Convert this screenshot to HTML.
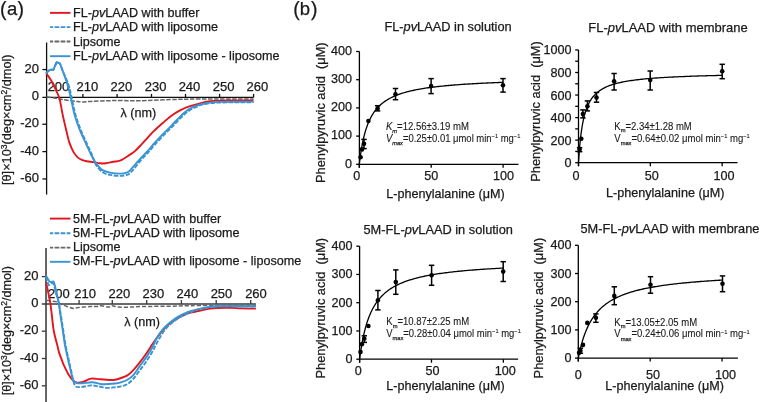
<!DOCTYPE html>
<html><head><meta charset="utf-8"><style>
html,body{margin:0;padding:0;background:#fff;}
svg{display:block;will-change:transform;}
text{font-family:"Liberation Sans",sans-serif;fill:#1a1a1a;stroke:#1a1a1a;stroke-width:0.25px;}
</style></head><body>
<svg width="760" height="402" viewBox="0 0 760 402">
<rect width="760" height="402" fill="#fff"/>
<text x="0.00" y="16.00" font-size="19.50" text-anchor="start" >(</text>
<text x="7.00" y="14.90" font-size="18.50" text-anchor="start" >a</text>
<text x="17.60" y="16.00" font-size="19.50" text-anchor="start" >)</text>
<text x="293.30" y="16.00" font-size="19.50" text-anchor="start" >(</text>
<text x="299.80" y="14.90" font-size="18.50" text-anchor="start" >b</text>
<text x="311.00" y="16.00" font-size="19.50" text-anchor="start" >)</text>
<line x1="50.00" y1="12.85" x2="70.50" y2="12.85" stroke="#e3151d" stroke-width="1.90" />
<text x="73.00" y="16.80" font-size="12.60" text-anchor="start" >FL-<tspan font-style="italic">pv</tspan>LAAD with buffer</text>
<line x1="50.00" y1="27.10" x2="70.40" y2="27.10" stroke="#3a93d2" stroke-width="1.90" stroke-dasharray="4.7 1.35" stroke-dashoffset="1.5"/>
<text x="73.00" y="31.20" font-size="12.60" text-anchor="start" >FL-<tspan font-style="italic">pv</tspan>LAAD with liposome</text>
<line x1="50.00" y1="41.50" x2="70.40" y2="41.50" stroke="#666666" stroke-width="1.90" stroke-dasharray="4.7 1.35" stroke-dashoffset="1.5"/>
<text x="73.00" y="45.60" font-size="12.60" text-anchor="start" >Lipsome</text>
<line x1="50.00" y1="56.20" x2="70.50" y2="56.20" stroke="#3a93d2" stroke-width="1.90" />
<text x="73.00" y="60.00" font-size="12.60" text-anchor="start" >FL-<tspan font-style="italic">pv</tspan>LAAD with liposome - liposome</text>
<line x1="46.60" y1="42.50" x2="46.60" y2="194.60" stroke="#111" stroke-width="1.30" />
<line x1="42.40" y1="97.30" x2="253.70" y2="97.30" stroke="#111" stroke-width="1.30" />
<line x1="42.40" y1="69.55" x2="46.60" y2="69.55" stroke="#111" stroke-width="1.30" />
<text x="39.00" y="72.55" font-size="13.00" text-anchor="end" >20</text>
<text x="39.00" y="99.90" font-size="13.00" text-anchor="end" >0</text>
<line x1="42.40" y1="124.25" x2="46.60" y2="124.25" stroke="#111" stroke-width="1.30" />
<text x="39.00" y="127.25" font-size="13.00" text-anchor="end" >-20</text>
<line x1="42.40" y1="151.60" x2="46.60" y2="151.60" stroke="#111" stroke-width="1.30" />
<text x="39.00" y="154.60" font-size="13.00" text-anchor="end" >-40</text>
<line x1="42.40" y1="178.95" x2="46.60" y2="178.95" stroke="#111" stroke-width="1.30" />
<text x="39.00" y="181.95" font-size="13.00" text-anchor="end" >-60</text>
<text x="58.50" y="90.90" font-size="13.00" text-anchor="middle" >200</text>
<line x1="82.90" y1="93.90" x2="82.90" y2="97.30" stroke="#111" stroke-width="1.30" />
<text x="87.40" y="90.90" font-size="13.00" text-anchor="middle" >210</text>
<line x1="117.10" y1="93.90" x2="117.10" y2="97.30" stroke="#111" stroke-width="1.30" />
<text x="121.30" y="90.90" font-size="13.00" text-anchor="middle" >220</text>
<line x1="151.50" y1="93.90" x2="151.50" y2="97.30" stroke="#111" stroke-width="1.30" />
<text x="155.60" y="90.90" font-size="13.00" text-anchor="middle" >230</text>
<line x1="185.50" y1="93.90" x2="185.50" y2="97.30" stroke="#111" stroke-width="1.30" />
<text x="189.50" y="90.90" font-size="13.00" text-anchor="middle" >240</text>
<line x1="219.60" y1="93.90" x2="219.60" y2="97.30" stroke="#111" stroke-width="1.30" />
<text x="223.70" y="90.90" font-size="13.00" text-anchor="middle" >250</text>
<line x1="253.60" y1="93.90" x2="253.60" y2="97.30" stroke="#111" stroke-width="1.30" />
<text x="257.40" y="90.90" font-size="13.00" text-anchor="middle" >260</text>
<text x="120.50" y="116.60" font-size="12.60" text-anchor="start" >λ (nm)</text>
<text transform="translate(11.00,185.00) rotate(-90)" font-size="12.60" textLength="130.6" lengthAdjust="spacingAndGlyphs">[θ]×10<tspan font-size="8.5" dy="-4.5">3</tspan><tspan dy="4.5">(deg×cm</tspan><tspan font-size="8.5" dy="-4.5">2</tspan><tspan dy="4.5">/dmol)</tspan></text>
<path d="M46.50,97.00 C47.83,97.18 51.75,97.67 54.50,98.10 C57.25,98.53 59.48,99.07 63.00,99.60 C66.52,100.13 72.45,100.92 75.60,101.30 C78.75,101.68 79.27,101.88 81.90,101.90 C84.53,101.92 87.18,101.60 91.40,101.40 C95.62,101.20 101.93,100.83 107.20,100.70 C112.47,100.57 117.53,100.60 123.00,100.60 C128.47,100.60 132.17,100.87 140.00,100.70 C147.83,100.53 160.00,99.88 170.00,99.60 C180.00,99.32 186.08,99.12 200.00,99.00 C213.92,98.88 244.58,98.92 253.50,98.90" fill="none" stroke="#666666" stroke-width="1.50" stroke-linejoin="round" stroke-dasharray="4.5 1.5"/>
<path d="M46.20,73.00 C46.58,73.58 47.62,75.15 48.50,76.50 C49.38,77.85 50.58,79.52 51.50,81.10 C52.42,82.68 53.18,84.33 54.00,86.00 C54.82,87.67 55.48,89.00 56.40,91.10 C57.32,93.20 58.45,94.63 59.50,98.60 C60.55,102.57 61.58,109.67 62.70,114.90 C63.82,120.13 65.10,125.42 66.20,130.00 C67.30,134.58 68.05,138.67 69.30,142.40 C70.55,146.13 72.35,149.95 73.70,152.40 C75.05,154.85 76.05,155.85 77.40,157.10 C78.75,158.35 80.25,159.20 81.80,159.90 C83.35,160.60 84.73,160.93 86.70,161.30 C88.67,161.67 91.42,161.77 93.60,162.10 C95.78,162.43 97.73,163.10 99.80,163.30 C101.87,163.50 103.75,163.55 106.00,163.30 C108.25,163.05 110.97,162.23 113.30,161.80 C115.63,161.37 117.43,161.75 120.00,160.70 C122.57,159.65 126.22,157.10 128.70,155.50 C131.18,153.90 132.83,152.87 134.90,151.10 C136.97,149.33 139.03,147.07 141.10,144.90 C143.17,142.73 145.20,140.40 147.30,138.10 C149.40,135.80 151.18,133.57 153.70,131.10 C156.22,128.63 159.50,125.83 162.40,123.30 C165.30,120.77 168.17,118.07 171.10,115.90 C174.03,113.73 176.85,111.92 180.00,110.30 C183.15,108.68 186.67,107.37 190.00,106.20 C193.33,105.03 196.67,104.12 200.00,103.30 C203.33,102.48 206.67,101.75 210.00,101.30 C213.33,100.85 215.83,100.73 220.00,100.60 C224.17,100.47 229.42,100.52 235.00,100.50 C240.58,100.48 250.42,100.50 253.50,100.50" fill="none" stroke="#e3151d" stroke-width="1.90" stroke-linejoin="round" />
<path d="M46.20,73.30 C46.42,73.05 46.88,72.37 47.50,71.80 C48.12,71.23 49.38,70.25 49.90,69.90 C50.42,69.55 50.12,69.73 50.60,69.70 C51.08,69.67 52.30,69.77 52.80,69.70 C53.30,69.63 53.00,70.47 53.60,69.30 C54.20,68.13 55.78,63.85 56.40,62.70 C57.02,61.55 56.80,62.30 57.30,62.40 C57.80,62.50 58.90,62.98 59.40,63.30 C59.90,63.62 59.82,63.22 60.30,64.30 C60.78,65.38 60.93,66.37 62.30,69.80 C63.67,73.23 66.95,80.32 68.50,84.90 C70.05,89.48 70.43,92.30 71.60,97.30 C72.77,102.30 73.98,109.47 75.50,114.90 C77.02,120.33 78.72,124.92 80.70,129.90 C82.68,134.88 85.53,140.70 87.40,144.80 C89.27,148.90 90.48,151.18 91.90,154.50 C93.32,157.82 94.12,161.75 95.90,164.70 C97.68,167.65 100.17,170.50 102.60,172.20 C105.03,173.90 107.52,174.28 110.50,174.90 C113.48,175.52 117.60,175.95 120.50,175.90 C123.40,175.85 126.05,175.33 127.90,174.60 C129.75,173.87 130.35,172.75 131.60,171.50 C132.85,170.25 133.65,169.22 135.40,167.10 C137.15,164.98 139.95,161.27 142.10,158.80 C144.25,156.33 146.20,154.63 148.30,152.30 C150.40,149.97 152.18,147.62 154.70,144.80 C157.22,141.98 160.68,138.20 163.40,135.40 C166.12,132.60 169.00,130.02 171.00,128.00 C173.00,125.98 173.95,124.82 175.40,123.30 C176.85,121.78 178.25,120.37 179.70,118.90 C181.15,117.43 182.65,115.80 184.10,114.50 C185.55,113.20 186.95,112.12 188.40,111.10 C189.85,110.08 191.35,109.13 192.80,108.40 C194.25,107.67 195.82,107.27 197.10,106.70 C198.38,106.13 199.20,105.43 200.50,105.00 C201.80,104.57 203.32,104.40 204.90,104.10 C206.48,103.80 207.48,103.47 210.00,103.20 C212.52,102.93 212.75,102.67 220.00,102.50 C227.25,102.33 247.92,102.25 253.50,102.20" fill="none" stroke="#3a93d2" stroke-width="1.90" stroke-linejoin="round" stroke-dasharray="4.5 1.5"/>
<path d="M46.20,73.30 C46.42,73.05 46.88,72.37 47.50,71.80 C48.12,71.23 49.38,70.25 49.90,69.90 C50.42,69.55 50.12,69.73 50.60,69.70 C51.08,69.67 52.30,69.77 52.80,69.70 C53.30,69.63 53.00,70.47 53.60,69.30 C54.20,68.13 55.78,63.85 56.40,62.70 C57.02,61.55 56.80,62.30 57.30,62.40 C57.80,62.50 58.90,62.98 59.40,63.30 C59.90,63.62 59.82,63.22 60.30,64.30 C60.78,65.38 61.08,66.37 62.30,69.80 C63.52,73.23 66.20,80.32 67.60,84.90 C69.00,89.48 69.53,92.30 70.70,97.30 C71.87,102.30 73.08,109.47 74.60,114.90 C76.12,120.33 77.82,124.92 79.80,129.90 C81.78,134.88 84.63,140.70 86.50,144.80 C88.37,148.90 89.52,151.57 91.00,154.50 C92.48,157.43 93.55,159.83 95.40,162.40 C97.25,164.97 99.67,168.20 102.10,169.90 C104.53,171.60 107.02,171.98 110.00,172.60 C112.98,173.22 117.10,173.65 120.00,173.60 C122.90,173.55 125.55,173.03 127.40,172.30 C129.25,171.57 129.85,170.45 131.10,169.20 C132.35,167.95 133.23,166.67 134.90,164.80 C136.57,162.93 139.03,160.22 141.10,158.00 C143.17,155.78 145.20,153.83 147.30,151.50 C149.40,149.17 151.18,146.82 153.70,144.00 C156.22,141.18 159.68,137.40 162.40,134.60 C165.12,131.80 168.00,129.22 170.00,127.20 C172.00,125.18 172.95,124.02 174.40,122.50 C175.85,120.98 177.25,119.57 178.70,118.10 C180.15,116.63 181.65,115.00 183.10,113.70 C184.55,112.40 185.95,111.32 187.40,110.30 C188.85,109.28 190.35,108.33 191.80,107.60 C193.25,106.87 194.65,106.43 196.10,105.90 C197.55,105.37 199.03,104.80 200.50,104.40 C201.97,104.00 203.32,103.80 204.90,103.50 C206.48,103.20 207.48,102.87 210.00,102.60 C212.52,102.33 212.75,102.07 220.00,101.90 C227.25,101.73 247.92,101.65 253.50,101.60" fill="none" stroke="#3a93d2" stroke-width="1.90" stroke-linejoin="round" />
<line x1="50.00" y1="218.60" x2="70.50" y2="218.60" stroke="#e3151d" stroke-width="1.90" />
<text x="73.00" y="222.60" font-size="12.60" text-anchor="start" >5M-FL-<tspan font-style="italic">pv</tspan>LAAD with buffer</text>
<line x1="50.00" y1="233.20" x2="70.40" y2="233.20" stroke="#3a93d2" stroke-width="1.90" stroke-dasharray="4.7 1.35" stroke-dashoffset="1.5"/>
<text x="73.00" y="236.80" font-size="12.60" text-anchor="start" >5M-FL-<tspan font-style="italic">pv</tspan>LAAD with liposome</text>
<line x1="50.00" y1="247.60" x2="70.40" y2="247.60" stroke="#666666" stroke-width="1.90" stroke-dasharray="4.7 1.35" stroke-dashoffset="1.5"/>
<text x="73.00" y="251.00" font-size="12.60" text-anchor="start" >Lipsome</text>
<line x1="50.00" y1="261.80" x2="70.50" y2="261.80" stroke="#3a93d2" stroke-width="1.90" />
<text x="73.00" y="265.20" font-size="12.60" text-anchor="start" >5M-FL-<tspan font-style="italic">pv</tspan>LAAD with liposome - liposome</text>
<line x1="46.00" y1="248.00" x2="46.00" y2="402.00" stroke="#3a3a3a" stroke-width="1.55" />
<line x1="41.80" y1="304.00" x2="255.90" y2="304.00" stroke="#3a3a3a" stroke-width="1.55" />
<line x1="41.80" y1="276.60" x2="46.00" y2="276.60" stroke="#3a3a3a" stroke-width="1.30" />
<text x="38.50" y="279.60" font-size="13.00" text-anchor="end" >20</text>
<text x="38.50" y="306.90" font-size="13.00" text-anchor="end" >0</text>
<line x1="41.80" y1="331.20" x2="46.00" y2="331.20" stroke="#3a3a3a" stroke-width="1.30" />
<text x="38.50" y="334.20" font-size="13.00" text-anchor="end" >-20</text>
<line x1="41.80" y1="358.50" x2="46.00" y2="358.50" stroke="#3a3a3a" stroke-width="1.30" />
<text x="38.50" y="361.50" font-size="13.00" text-anchor="end" >-40</text>
<line x1="41.80" y1="385.80" x2="46.00" y2="385.80" stroke="#3a3a3a" stroke-width="1.30" />
<text x="38.50" y="388.80" font-size="13.00" text-anchor="end" >-60</text>
<text x="58.80" y="297.50" font-size="13.00" text-anchor="middle" >200</text>
<line x1="79.10" y1="300.10" x2="79.10" y2="304.00" stroke="#3a3a3a" stroke-width="1.30" />
<text x="85.10" y="297.50" font-size="13.00" text-anchor="middle" >210</text>
<line x1="112.30" y1="300.10" x2="112.30" y2="304.00" stroke="#3a3a3a" stroke-width="1.30" />
<text x="119.30" y="297.50" font-size="13.00" text-anchor="middle" >220</text>
<line x1="146.70" y1="300.10" x2="146.70" y2="304.00" stroke="#3a3a3a" stroke-width="1.30" />
<text x="153.40" y="297.50" font-size="13.00" text-anchor="middle" >230</text>
<line x1="181.40" y1="300.10" x2="181.40" y2="304.00" stroke="#3a3a3a" stroke-width="1.30" />
<text x="187.40" y="297.50" font-size="13.00" text-anchor="middle" >240</text>
<line x1="216.20" y1="300.10" x2="216.20" y2="304.00" stroke="#3a3a3a" stroke-width="1.30" />
<text x="221.50" y="297.50" font-size="13.00" text-anchor="middle" >250</text>
<line x1="250.70" y1="300.10" x2="250.70" y2="304.00" stroke="#3a3a3a" stroke-width="1.30" />
<text x="256.00" y="297.50" font-size="13.00" text-anchor="middle" >260</text>
<text x="124.20" y="326.30" font-size="12.60" text-anchor="start" >λ (nm)</text>
<text transform="translate(11.00,395.30) rotate(-90)" font-size="12.60" >[θ]×10<tspan font-size="8.5" dy="-4.5">3</tspan><tspan dy="4.5">(deg×cm</tspan><tspan font-size="8.5" dy="-4.5">2</tspan><tspan dy="4.5">/dmol)</tspan></text>
<path d="M46.60,300.40 C46.83,300.43 46.35,300.35 48.00,300.60 C49.65,300.85 54.32,301.30 56.50,301.90 C58.68,302.50 59.35,303.43 61.10,304.20 C62.85,304.97 64.92,305.80 67.00,306.50 C69.08,307.20 71.73,308.22 73.60,308.40 C75.47,308.58 75.47,307.90 78.20,307.60 C80.93,307.30 86.93,306.78 90.00,306.60 C93.07,306.42 94.62,306.63 96.60,306.50 C98.58,306.37 99.92,305.70 101.90,305.80 C103.88,305.90 106.75,307.12 108.50,307.10 C110.25,307.08 110.87,305.70 112.40,305.70 C113.93,305.70 114.85,306.87 117.70,307.10 C120.55,307.33 125.33,307.20 129.50,307.10 C133.67,307.00 135.95,306.65 142.70,306.50 C149.45,306.35 160.45,306.37 170.00,306.20 C179.55,306.03 185.68,305.67 200.00,305.50 C214.32,305.33 246.58,305.25 255.90,305.20" fill="none" stroke="#666666" stroke-width="1.50" stroke-linejoin="round" stroke-dasharray="4.2 1.9"/>
<path d="M46.00,282.40 C46.28,283.65 47.00,286.58 47.70,289.90 C48.40,293.22 49.52,298.13 50.20,302.30 C50.88,306.47 51.23,310.30 51.80,314.90 C52.37,319.50 52.92,325.72 53.60,329.90 C54.28,334.08 55.30,337.52 55.90,340.00 C56.50,342.48 56.68,342.73 57.20,344.80 C57.72,346.87 58.22,349.83 59.00,352.40 C59.78,354.97 61.12,358.12 61.90,360.20 C62.68,362.28 62.57,362.47 63.70,364.90 C64.83,367.33 67.15,372.22 68.70,374.80 C70.25,377.38 71.55,379.08 73.00,380.40 C74.45,381.72 75.63,382.48 77.40,382.70 C79.17,382.92 81.33,382.38 83.60,381.70 C85.87,381.02 88.30,379.02 91.00,378.60 C93.70,378.18 96.48,378.97 99.80,379.20 C103.12,379.43 108.37,379.90 110.90,380.00 C113.43,380.10 113.32,380.13 115.00,379.80 C116.68,379.47 118.93,378.73 121.00,378.00 C123.07,377.27 125.30,376.77 127.40,375.40 C129.50,374.03 131.53,371.97 133.60,369.80 C135.67,367.63 137.72,365.08 139.80,362.40 C141.88,359.72 144.02,356.72 146.10,353.70 C148.18,350.68 150.40,347.08 152.30,344.30 C154.20,341.52 155.72,339.38 157.50,337.00 C159.28,334.62 161.17,332.07 163.00,330.00 C164.83,327.93 166.67,326.20 168.50,324.60 C170.33,323.00 172.17,321.65 174.00,320.40 C175.83,319.15 177.67,318.08 179.50,317.10 C181.33,316.12 183.17,315.25 185.00,314.50 C186.83,313.75 188.12,313.22 190.50,312.60 C192.88,311.98 196.32,311.42 199.30,310.80 C202.28,310.18 205.35,309.37 208.40,308.90 C211.45,308.43 213.77,308.17 217.60,308.00 C221.43,307.83 227.55,307.83 231.40,307.90 C235.25,307.97 236.62,308.28 240.70,308.40 C244.78,308.52 253.37,308.57 255.90,308.60" fill="none" stroke="#e3151d" stroke-width="1.90" stroke-linejoin="round" />
<path d="M46.00,276.50 C46.25,277.25 47.12,279.58 47.50,281.00 C47.88,282.42 47.88,284.42 48.30,285.00 C48.72,285.58 49.38,284.83 50.00,284.50 C50.62,284.17 51.42,283.08 52.00,283.00 C52.58,282.92 53.03,283.17 53.50,284.00 C53.97,284.83 54.33,286.50 54.80,288.00 C55.27,289.50 55.82,291.25 56.30,293.00 C56.78,294.75 57.25,296.67 57.70,298.50 C58.15,300.33 58.48,301.25 59.00,304.00 C59.52,306.75 60.10,310.67 60.80,315.00 C61.50,319.33 62.42,325.00 63.20,330.00 C63.98,335.00 64.67,340.42 65.50,345.00 C66.33,349.58 67.25,353.17 68.20,357.50 C69.15,361.83 70.08,366.35 71.20,371.00 C72.32,375.65 73.25,382.73 74.90,385.40 C76.55,388.07 78.42,387.00 81.10,387.00 C83.78,387.00 88.02,385.48 91.00,385.40 C93.98,385.32 96.30,386.08 99.00,386.50 C101.70,386.92 104.53,387.78 107.20,387.90 C109.87,388.02 112.70,387.47 115.00,387.20 C117.30,386.93 118.93,386.82 121.00,386.30 C123.07,385.78 125.30,385.40 127.40,384.10 C129.50,382.80 131.53,380.78 133.60,378.50 C135.67,376.22 137.72,373.20 139.80,370.40 C141.88,367.60 144.02,364.80 146.10,361.70 C148.18,358.60 150.73,354.50 152.30,351.80 C153.87,349.10 154.47,347.47 155.50,345.50 C156.53,343.53 157.25,342.17 158.50,340.00 C159.75,337.83 161.42,334.78 163.00,332.50 C164.58,330.22 166.17,328.18 168.00,326.30 C169.83,324.42 172.00,322.72 174.00,321.20 C176.00,319.68 177.80,318.45 180.00,317.20 C182.20,315.95 184.00,315.03 187.20,313.70 C190.40,312.37 194.13,310.42 199.20,309.20 C204.27,307.98 208.15,306.85 217.60,306.40 C227.05,305.95 249.52,306.48 255.90,306.50" fill="none" stroke="#3a93d2" stroke-width="1.90" stroke-linejoin="round" stroke-dasharray="4.5 1.5"/>
<path d="M46.00,275.80 C46.33,276.37 47.42,278.25 48.00,279.20 C48.58,280.15 48.92,281.03 49.50,281.50 C50.08,281.97 50.83,282.00 51.50,282.00 C52.17,282.00 52.98,281.08 53.50,281.50 C54.02,281.92 54.18,283.00 54.60,284.50 C55.02,286.00 55.57,288.58 56.00,290.50 C56.43,292.42 56.82,294.25 57.20,296.00 C57.58,297.75 57.95,299.33 58.30,301.00 C58.65,302.67 58.95,303.67 59.30,306.00 C59.65,308.33 59.83,311.02 60.40,315.00 C60.97,318.98 61.95,324.93 62.70,329.90 C63.45,334.87 64.10,340.28 64.90,344.80 C65.70,349.32 66.57,352.82 67.50,357.00 C68.43,361.18 69.58,366.10 70.50,369.90 C71.42,373.70 72.07,377.63 73.00,379.80 C73.93,381.97 74.55,382.32 76.10,382.90 C77.65,383.48 79.60,383.40 82.30,383.30 C85.00,383.20 88.98,382.15 92.30,382.30 C95.62,382.45 98.42,384.00 102.20,384.20 C105.98,384.40 111.87,383.82 115.00,383.50 C118.13,383.18 118.93,382.92 121.00,382.30 C123.07,381.68 125.30,381.05 127.40,379.80 C129.50,378.55 131.53,377.08 133.60,374.80 C135.67,372.52 137.72,369.00 139.80,366.10 C141.88,363.20 144.02,360.50 146.10,357.40 C148.18,354.30 150.52,350.73 152.30,347.50 C154.08,344.27 155.12,340.95 156.80,338.00 C158.48,335.05 160.53,332.12 162.40,329.80 C164.27,327.48 166.13,325.78 168.00,324.10 C169.87,322.42 171.73,321.02 173.60,319.70 C175.47,318.38 177.33,317.25 179.20,316.20 C181.07,315.15 182.93,314.23 184.80,313.40 C186.67,312.57 187.97,311.95 190.40,311.20 C192.83,310.45 196.40,309.58 199.40,308.90 C202.40,308.22 205.37,307.55 208.40,307.10 C211.43,306.65 209.68,306.35 217.60,306.20 C225.52,306.05 249.52,306.20 255.90,306.20" fill="none" stroke="#3a93d2" stroke-width="1.90" stroke-linejoin="round" />
<line x1="359.40" y1="51.50" x2="359.40" y2="167.80" stroke="#000" stroke-width="1.30" />
<line x1="359.40" y1="164.30" x2="518.50" y2="164.30" stroke="#000" stroke-width="1.30" />
<line x1="356.10" y1="164.30" x2="359.40" y2="164.30" stroke="#000" stroke-width="1.30" />
<text x="352.00" y="167.60" font-size="12.60" text-anchor="end" >0</text>
<line x1="356.10" y1="136.10" x2="359.40" y2="136.10" stroke="#000" stroke-width="1.30" />
<text x="352.00" y="139.40" font-size="12.60" text-anchor="end" >100</text>
<line x1="356.10" y1="107.90" x2="359.40" y2="107.90" stroke="#000" stroke-width="1.30" />
<text x="352.00" y="111.20" font-size="12.60" text-anchor="end" >200</text>
<line x1="356.10" y1="79.70" x2="359.40" y2="79.70" stroke="#000" stroke-width="1.30" />
<text x="352.00" y="83.00" font-size="12.60" text-anchor="end" >300</text>
<line x1="356.10" y1="51.50" x2="359.40" y2="51.50" stroke="#000" stroke-width="1.30" />
<text x="352.00" y="54.80" font-size="12.60" text-anchor="end" >400</text>
<line x1="359.30" y1="164.30" x2="359.30" y2="167.80" stroke="#000" stroke-width="1.30" />
<text x="356.80" y="179.80" font-size="12.60" text-anchor="middle" >0</text>
<line x1="431.20" y1="164.30" x2="431.20" y2="167.80" stroke="#000" stroke-width="1.30" />
<text x="431.30" y="179.80" font-size="12.60" text-anchor="middle" >50</text>
<line x1="503.10" y1="164.30" x2="503.10" y2="167.80" stroke="#000" stroke-width="1.30" />
<text x="503.60" y="179.80" font-size="12.60" text-anchor="middle" >100</text>
<text x="384.40" y="31.20" font-size="12.60" text-anchor="start" textLength="127.3" lengthAdjust="spacingAndGlyphs">FL-<tspan font-style="italic">pv</tspan>LAAD in solution</text>
<text x="386.20" y="197.50" font-size="12.60" text-anchor="start" >L-phenylalanine (μM)</text>
<text transform="translate(325.00,183.00) rotate(-90)" font-size="12.6" textLength="140.6" lengthAdjust="spacingAndGlyphs">Phenylpyruvic acid&#160;&#160;(μM)</text>
<path d="M359.30,164.30 L359.66,161.28 L360.02,158.45 L360.38,155.81 L360.74,153.34 L361.10,151.01 L361.46,148.82 L361.82,146.76 L362.18,144.81 L362.54,142.97 L362.90,141.22 L363.25,139.56 L363.61,137.99 L363.97,136.49 L364.33,135.07 L364.69,133.71 L365.05,132.41 L365.41,131.17 L365.77,129.98 L366.13,128.85 L366.49,127.76 L366.85,126.71 L367.21,125.71 L367.57,124.75 L367.93,123.82 L368.29,122.93 L368.65,122.07 L369.01,121.25 L369.37,120.45 L369.73,119.68 L370.09,118.94 L370.44,118.22 L370.80,117.53 L371.16,116.85 L371.52,116.21 L371.88,115.58 L372.24,114.97 L372.60,114.38 L372.96,113.80 L373.32,113.25 L373.68,112.71 L375.12,110.70 L376.56,108.91 L377.99,107.29 L379.43,105.83 L380.87,104.50 L382.31,103.29 L383.75,102.18 L385.18,101.15 L386.62,100.21 L388.06,99.34 L389.50,98.52 L390.94,97.77 L392.37,97.06 L393.81,96.40 L395.25,95.78 L396.69,95.20 L398.13,94.65 L399.56,94.14 L401.00,93.65 L402.44,93.19 L403.88,92.75 L405.32,92.34 L406.75,91.95 L408.19,91.57 L409.63,91.22 L411.07,90.88 L412.51,90.55 L413.94,90.24 L415.38,89.94 L416.82,89.66 L418.26,89.39 L419.70,89.13 L421.13,88.88 L422.57,88.64 L424.01,88.40 L425.45,88.18 L426.89,87.97 L428.32,87.76 L429.76,87.56 L431.20,87.37 L432.64,87.18 L434.08,87.00 L435.51,86.83 L436.95,86.66 L438.39,86.50 L439.83,86.34 L441.27,86.19 L442.70,86.04 L444.14,85.90 L445.58,85.76 L447.02,85.63 L448.46,85.50 L449.89,85.37 L451.33,85.24 L452.77,85.12 L454.21,85.01 L455.65,84.89 L457.08,84.78 L458.52,84.68 L459.96,84.57 L461.40,84.47 L462.84,84.37 L464.27,84.27 L465.71,84.18 L467.15,84.08 L468.59,83.99 L470.03,83.91 L471.46,83.82 L472.90,83.74 L474.34,83.65 L475.78,83.57 L477.22,83.50 L478.65,83.42 L480.09,83.34 L481.53,83.27 L482.97,83.20 L484.41,83.13 L485.84,83.06 L487.28,82.99 L488.72,82.93 L490.16,82.86 L491.60,82.80 L493.03,82.74 L494.47,82.68 L495.91,82.62 L497.35,82.56 L498.79,82.50 L500.22,82.44 L501.66,82.39 L503.10,82.34" fill="none" stroke="#000" stroke-width="1.3"/>
<circle cx="360.60" cy="157.30" r="2.3" fill="#000"/>
<circle cx="362.00" cy="149.40" r="2.3" fill="#000"/>
<line x1="364.00" y1="139.40" x2="364.00" y2="148.60" stroke="#000" stroke-width="1.50" />
<line x1="361.30" y1="139.40" x2="366.70" y2="139.40" stroke="#000" stroke-width="1.50" />
<line x1="361.30" y1="148.60" x2="366.70" y2="148.60" stroke="#000" stroke-width="1.50" />
<circle cx="364.00" cy="143.80" r="2.3" fill="#000"/>
<circle cx="368.40" cy="121.00" r="2.3" fill="#000"/>
<line x1="377.60" y1="105.70" x2="377.60" y2="110.90" stroke="#000" stroke-width="1.50" />
<line x1="374.90" y1="105.70" x2="380.30" y2="105.70" stroke="#000" stroke-width="1.50" />
<line x1="374.90" y1="110.90" x2="380.30" y2="110.90" stroke="#000" stroke-width="1.50" />
<circle cx="377.60" cy="108.40" r="2.3" fill="#000"/>
<line x1="395.50" y1="88.50" x2="395.50" y2="99.70" stroke="#000" stroke-width="1.50" />
<line x1="392.80" y1="88.50" x2="398.20" y2="88.50" stroke="#000" stroke-width="1.50" />
<line x1="392.80" y1="99.70" x2="398.20" y2="99.70" stroke="#000" stroke-width="1.50" />
<circle cx="395.50" cy="94.30" r="2.3" fill="#000"/>
<line x1="431.10" y1="78.60" x2="431.10" y2="93.60" stroke="#000" stroke-width="1.50" />
<line x1="428.40" y1="78.60" x2="433.80" y2="78.60" stroke="#000" stroke-width="1.50" />
<line x1="428.40" y1="93.60" x2="433.80" y2="93.60" stroke="#000" stroke-width="1.50" />
<circle cx="431.10" cy="86.10" r="2.3" fill="#000"/>
<line x1="503.00" y1="78.60" x2="503.00" y2="92.10" stroke="#000" stroke-width="1.50" />
<line x1="500.30" y1="78.60" x2="505.70" y2="78.60" stroke="#000" stroke-width="1.50" />
<line x1="500.30" y1="92.10" x2="505.70" y2="92.10" stroke="#000" stroke-width="1.50" />
<circle cx="503.00" cy="85.30" r="2.3" fill="#000"/>
<text x="385.90" y="130.30" font-size="10.00" text-anchor="start" style="stroke-width:0.1px" textLength="83.1" lengthAdjust="spacingAndGlyphs"><tspan font-style="italic">K</tspan><tspan font-size="6" dy="2.3" style="stroke-width:0.25px" font-style="italic">m</tspan><tspan dy="-2.3">=12.56±3.19 mM</tspan></text>
<text x="385.90" y="141.60" font-size="10.00" text-anchor="start" style="stroke-width:0.1px" textLength="134.4" lengthAdjust="spacingAndGlyphs"><tspan font-style="italic">V</tspan><tspan font-size="6" dy="3.3" style="stroke-width:0.25px" font-style="italic">max</tspan><tspan dy="-3.3">=0.25±0.01 μmol min<tspan font-size="6" dy="-3.5">−1</tspan><tspan dy="3.5"> mg<tspan font-size="6" dy="-3.5">−1</tspan><tspan dy="3.5"></tspan></tspan></text>
<line x1="578.50" y1="49.95" x2="578.50" y2="166.20" stroke="#000" stroke-width="1.30" />
<line x1="578.50" y1="162.70" x2="737.50" y2="162.70" stroke="#000" stroke-width="1.30" />
<line x1="575.20" y1="162.70" x2="578.50" y2="162.70" stroke="#000" stroke-width="1.30" />
<text x="571.50" y="167.20" font-size="12.60" text-anchor="end" >0</text>
<line x1="575.20" y1="151.42" x2="578.50" y2="151.42" stroke="#000" stroke-width="1.30" />
<line x1="575.20" y1="140.15" x2="578.50" y2="140.15" stroke="#000" stroke-width="1.30" />
<text x="571.50" y="144.65" font-size="12.60" text-anchor="end" >200</text>
<line x1="575.20" y1="128.88" x2="578.50" y2="128.88" stroke="#000" stroke-width="1.30" />
<line x1="575.20" y1="117.60" x2="578.50" y2="117.60" stroke="#000" stroke-width="1.30" />
<text x="571.50" y="122.10" font-size="12.60" text-anchor="end" >400</text>
<line x1="575.20" y1="106.32" x2="578.50" y2="106.32" stroke="#000" stroke-width="1.30" />
<line x1="575.20" y1="95.05" x2="578.50" y2="95.05" stroke="#000" stroke-width="1.30" />
<text x="571.50" y="99.55" font-size="12.60" text-anchor="end" >600</text>
<line x1="575.20" y1="83.77" x2="578.50" y2="83.77" stroke="#000" stroke-width="1.30" />
<line x1="575.20" y1="72.50" x2="578.50" y2="72.50" stroke="#000" stroke-width="1.30" />
<text x="571.50" y="77.00" font-size="12.60" text-anchor="end" >800</text>
<line x1="575.20" y1="61.22" x2="578.50" y2="61.22" stroke="#000" stroke-width="1.30" />
<line x1="575.20" y1="49.95" x2="578.50" y2="49.95" stroke="#000" stroke-width="1.30" />
<text x="571.50" y="54.45" font-size="12.60" text-anchor="end" >1000</text>
<line x1="578.50" y1="162.70" x2="578.50" y2="166.20" stroke="#000" stroke-width="1.30" />
<text x="576.00" y="179.80" font-size="12.60" text-anchor="middle" >0</text>
<line x1="650.32" y1="162.70" x2="650.32" y2="166.20" stroke="#000" stroke-width="1.30" />
<text x="651.70" y="179.80" font-size="12.60" text-anchor="middle" >50</text>
<line x1="722.14" y1="162.70" x2="722.14" y2="166.20" stroke="#000" stroke-width="1.30" />
<text x="724.00" y="179.80" font-size="12.60" text-anchor="middle" >100</text>
<text x="588.30" y="31.60" font-size="12.60" text-anchor="start" textLength="159.4" lengthAdjust="spacingAndGlyphs">FL-<tspan font-style="italic">pv</tspan>LAAD with membrane</text>
<text x="606.00" y="197.20" font-size="12.60" text-anchor="start" >L-phenylalanine (μM)</text>
<text transform="translate(539.90,181.80) rotate(-90)" font-size="12.6" textLength="140.6" lengthAdjust="spacingAndGlyphs">Phenylpyruvic acid&#160;&#160;(μM)</text>
<path d="M578.50,162.70 L578.86,157.10 L579.22,152.16 L579.58,147.76 L579.94,143.81 L580.30,140.26 L580.65,137.04 L581.01,134.12 L581.37,131.44 L581.73,128.99 L582.09,126.73 L582.45,124.64 L582.81,122.71 L583.17,120.91 L583.53,119.24 L583.89,117.67 L584.25,116.21 L584.60,114.84 L584.96,113.55 L585.32,112.34 L585.68,111.19 L586.04,110.11 L586.40,109.09 L586.76,108.12 L587.12,107.20 L587.48,106.32 L587.84,105.49 L588.20,104.70 L588.55,103.94 L588.91,103.22 L589.27,102.53 L589.63,101.87 L589.99,101.24 L590.35,100.64 L590.71,100.05 L591.07,99.50 L591.43,98.96 L591.79,98.45 L592.15,97.95 L592.50,97.47 L592.86,97.01 L594.30,95.32 L595.74,93.85 L597.17,92.55 L598.61,91.40 L600.05,90.37 L601.48,89.45 L602.92,88.61 L604.36,87.85 L605.79,87.16 L607.23,86.52 L608.66,85.94 L610.10,85.40 L611.54,84.90 L612.97,84.44 L614.41,84.01 L615.85,83.61 L617.28,83.23 L618.72,82.88 L620.16,82.55 L621.59,82.24 L623.03,81.95 L624.46,81.67 L625.90,81.41 L627.34,81.16 L628.77,80.93 L630.21,80.70 L631.65,80.49 L633.08,80.29 L634.52,80.10 L635.96,79.91 L637.39,79.74 L638.83,79.57 L640.27,79.41 L641.70,79.26 L643.14,79.11 L644.57,78.97 L646.01,78.83 L647.45,78.70 L648.88,78.57 L650.32,78.45 L651.76,78.34 L653.19,78.22 L654.63,78.11 L656.07,78.01 L657.50,77.91 L658.94,77.81 L660.37,77.71 L661.81,77.62 L663.25,77.53 L664.68,77.45 L666.12,77.36 L667.56,77.28 L668.99,77.21 L670.43,77.13 L671.87,77.06 L673.30,76.98 L674.74,76.91 L676.18,76.85 L677.61,76.78 L679.05,76.72 L680.48,76.65 L681.92,76.59 L683.36,76.53 L684.79,76.48 L686.23,76.42 L687.67,76.37 L689.10,76.31 L690.54,76.26 L691.98,76.21 L693.41,76.16 L694.85,76.11 L696.28,76.06 L697.72,76.02 L699.16,75.97 L700.59,75.93 L702.03,75.89 L703.47,75.84 L704.90,75.80 L706.34,75.76 L707.78,75.72 L709.21,75.68 L710.65,75.64 L712.09,75.61 L713.52,75.57 L714.96,75.54 L716.39,75.50 L717.83,75.47 L719.27,75.43 L720.70,75.40 L722.14,75.37" fill="none" stroke="#000" stroke-width="1.3"/>
<line x1="579.60" y1="147.70" x2="579.60" y2="151.70" stroke="#000" stroke-width="1.50" />
<line x1="576.90" y1="147.70" x2="582.30" y2="147.70" stroke="#000" stroke-width="1.50" />
<line x1="576.90" y1="151.70" x2="582.30" y2="151.70" stroke="#000" stroke-width="1.50" />
<circle cx="579.60" cy="149.60" r="2.3" fill="#000"/>
<circle cx="581.30" cy="138.80" r="2.3" fill="#000"/>
<line x1="582.90" y1="109.90" x2="582.90" y2="117.90" stroke="#000" stroke-width="1.50" />
<line x1="580.20" y1="109.90" x2="585.60" y2="109.90" stroke="#000" stroke-width="1.50" />
<line x1="580.20" y1="117.90" x2="585.60" y2="117.90" stroke="#000" stroke-width="1.50" />
<circle cx="582.90" cy="114.10" r="2.3" fill="#000"/>
<line x1="587.40" y1="100.90" x2="587.40" y2="110.90" stroke="#000" stroke-width="1.50" />
<line x1="584.70" y1="100.90" x2="590.10" y2="100.90" stroke="#000" stroke-width="1.50" />
<line x1="584.70" y1="110.90" x2="590.10" y2="110.90" stroke="#000" stroke-width="1.50" />
<circle cx="587.40" cy="106.20" r="2.3" fill="#000"/>
<line x1="596.50" y1="92.50" x2="596.50" y2="102.20" stroke="#000" stroke-width="1.50" />
<line x1="593.80" y1="92.50" x2="599.20" y2="92.50" stroke="#000" stroke-width="1.50" />
<line x1="593.80" y1="102.20" x2="599.20" y2="102.20" stroke="#000" stroke-width="1.50" />
<circle cx="596.50" cy="97.60" r="2.3" fill="#000"/>
<line x1="614.10" y1="73.50" x2="614.10" y2="90.00" stroke="#000" stroke-width="1.50" />
<line x1="611.40" y1="73.50" x2="616.80" y2="73.50" stroke="#000" stroke-width="1.50" />
<line x1="611.40" y1="90.00" x2="616.80" y2="90.00" stroke="#000" stroke-width="1.50" />
<circle cx="614.10" cy="81.20" r="2.3" fill="#000"/>
<line x1="650.20" y1="71.00" x2="650.20" y2="90.00" stroke="#000" stroke-width="1.50" />
<line x1="647.50" y1="71.00" x2="652.90" y2="71.00" stroke="#000" stroke-width="1.50" />
<line x1="647.50" y1="90.00" x2="652.90" y2="90.00" stroke="#000" stroke-width="1.50" />
<circle cx="650.20" cy="80.10" r="2.3" fill="#000"/>
<line x1="722.20" y1="64.30" x2="722.20" y2="78.70" stroke="#000" stroke-width="1.50" />
<line x1="719.50" y1="64.30" x2="724.90" y2="64.30" stroke="#000" stroke-width="1.50" />
<line x1="719.50" y1="78.70" x2="724.90" y2="78.70" stroke="#000" stroke-width="1.50" />
<circle cx="722.20" cy="71.20" r="2.3" fill="#000"/>
<text x="614.30" y="130.00" font-size="10.00" text-anchor="start" style="stroke-width:0.1px" textLength="77.5" lengthAdjust="spacingAndGlyphs">K<tspan font-size="6" dy="2.3" style="stroke-width:0.25px">m</tspan><tspan dy="-2.3">=2.34±1.28 mM</tspan></text>
<text x="614.30" y="141.60" font-size="10.00" text-anchor="start" style="stroke-width:0.1px" textLength="135.5" lengthAdjust="spacingAndGlyphs">V<tspan font-size="6" dy="3.3" style="stroke-width:0.25px">max</tspan><tspan dy="-3.3">=0.64±0.02 μmol min<tspan font-size="6" dy="-3.5">−1</tspan><tspan dy="3.5"> mg<tspan font-size="6" dy="-3.5">−1</tspan><tspan dy="3.5"></tspan></tspan></text>
<line x1="359.60" y1="246.20" x2="359.60" y2="362.70" stroke="#000" stroke-width="1.30" />
<line x1="359.60" y1="359.20" x2="518.10" y2="359.20" stroke="#000" stroke-width="1.30" />
<line x1="356.30" y1="359.20" x2="359.60" y2="359.20" stroke="#000" stroke-width="1.30" />
<text x="352.50" y="363.00" font-size="12.60" text-anchor="end" >0</text>
<line x1="356.30" y1="330.95" x2="359.60" y2="330.95" stroke="#000" stroke-width="1.30" />
<text x="352.50" y="334.75" font-size="12.60" text-anchor="end" >100</text>
<line x1="356.30" y1="302.70" x2="359.60" y2="302.70" stroke="#000" stroke-width="1.30" />
<text x="352.50" y="306.50" font-size="12.60" text-anchor="end" >200</text>
<line x1="356.30" y1="274.45" x2="359.60" y2="274.45" stroke="#000" stroke-width="1.30" />
<text x="352.50" y="278.25" font-size="12.60" text-anchor="end" >300</text>
<line x1="356.30" y1="246.20" x2="359.60" y2="246.20" stroke="#000" stroke-width="1.30" />
<text x="352.50" y="250.00" font-size="12.60" text-anchor="end" >400</text>
<line x1="359.60" y1="359.20" x2="359.60" y2="362.70" stroke="#000" stroke-width="1.30" />
<text x="358.30" y="375.10" font-size="12.60" text-anchor="middle" >0</text>
<line x1="431.48" y1="359.20" x2="431.48" y2="362.70" stroke="#000" stroke-width="1.30" />
<text x="432.40" y="375.10" font-size="12.60" text-anchor="middle" >50</text>
<line x1="503.36" y1="359.20" x2="503.36" y2="362.70" stroke="#000" stroke-width="1.30" />
<text x="505.20" y="375.10" font-size="12.60" text-anchor="middle" >100</text>
<text x="363.50" y="233.80" font-size="12.60" text-anchor="start" textLength="149.4" lengthAdjust="spacingAndGlyphs">5M-FL-<tspan font-style="italic">pv</tspan>LAAD in solution</text>
<text x="386.20" y="389.70" font-size="12.60" text-anchor="start" >L-phenylalanine (μM)</text>
<text transform="translate(325.40,378.50) rotate(-90)" font-size="12.6" textLength="140.6" lengthAdjust="spacingAndGlyphs">Phenylpyruvic acid&#160;&#160;(μM)</text>
<path d="M359.60,359.20 L359.96,356.46 L360.32,353.87 L360.68,351.41 L361.04,349.08 L361.40,346.87 L361.76,344.76 L362.12,342.75 L362.48,340.84 L362.83,339.01 L363.19,337.26 L363.55,335.59 L363.91,333.99 L364.27,332.46 L364.63,330.98 L364.99,329.57 L365.35,328.21 L365.71,326.91 L366.07,325.65 L366.43,324.44 L366.79,323.27 L367.15,322.15 L367.51,321.06 L367.87,320.01 L368.23,319.00 L368.59,318.02 L368.94,317.07 L369.30,316.16 L369.66,315.27 L370.02,314.41 L370.38,313.58 L370.74,312.77 L371.10,311.98 L371.46,311.22 L371.82,310.48 L372.18,309.76 L372.54,309.06 L372.90,308.39 L373.26,307.72 L373.62,307.08 L373.98,306.46 L375.41,304.11 L376.85,301.99 L378.29,300.07 L379.73,298.31 L381.16,296.71 L382.60,295.23 L384.04,293.86 L385.48,292.60 L386.91,291.43 L388.35,290.34 L389.79,289.32 L391.23,288.37 L392.66,287.48 L394.10,286.65 L395.54,285.86 L396.98,285.12 L398.42,284.42 L399.85,283.75 L401.29,283.13 L402.73,282.53 L404.17,281.97 L405.60,281.43 L407.04,280.92 L408.48,280.43 L409.92,279.96 L411.35,279.52 L412.79,279.09 L414.23,278.69 L415.67,278.30 L417.10,277.92 L418.54,277.56 L419.98,277.22 L421.42,276.89 L422.85,276.57 L424.29,276.26 L425.73,275.97 L427.17,275.68 L428.60,275.40 L430.04,275.14 L431.48,274.88 L432.92,274.63 L434.36,274.39 L435.79,274.16 L437.23,273.94 L438.67,273.72 L440.11,273.51 L441.54,273.30 L442.98,273.11 L444.42,272.91 L445.86,272.73 L447.29,272.54 L448.73,272.37 L450.17,272.20 L451.61,272.03 L453.04,271.87 L454.48,271.71 L455.92,271.55 L457.36,271.40 L458.79,271.26 L460.23,271.12 L461.67,270.98 L463.11,270.84 L464.54,270.71 L465.98,270.58 L467.42,270.46 L468.86,270.33 L470.30,270.21 L471.73,270.10 L473.17,269.98 L474.61,269.87 L476.05,269.76 L477.48,269.65 L478.92,269.55 L480.36,269.45 L481.80,269.35 L483.23,269.25 L484.67,269.15 L486.11,269.06 L487.55,268.96 L488.98,268.87 L490.42,268.79 L491.86,268.70 L493.30,268.61 L494.73,268.53 L496.17,268.45 L497.61,268.37 L499.05,268.29 L500.48,268.21 L501.92,268.14 L503.36,268.06" fill="none" stroke="#000" stroke-width="1.3"/>
<circle cx="360.50" cy="352.10" r="2.3" fill="#000"/>
<circle cx="361.90" cy="344.20" r="2.3" fill="#000"/>
<line x1="364.30" y1="335.80" x2="364.30" y2="342.40" stroke="#000" stroke-width="1.50" />
<line x1="361.60" y1="335.80" x2="367.00" y2="335.80" stroke="#000" stroke-width="1.50" />
<line x1="361.60" y1="342.40" x2="367.00" y2="342.40" stroke="#000" stroke-width="1.50" />
<circle cx="364.30" cy="338.80" r="2.3" fill="#000"/>
<circle cx="368.40" cy="326.00" r="2.3" fill="#000"/>
<line x1="377.90" y1="290.50" x2="377.90" y2="309.90" stroke="#000" stroke-width="1.50" />
<line x1="375.20" y1="290.50" x2="380.60" y2="290.50" stroke="#000" stroke-width="1.50" />
<line x1="375.20" y1="309.90" x2="380.60" y2="309.90" stroke="#000" stroke-width="1.50" />
<circle cx="377.90" cy="300.20" r="2.3" fill="#000"/>
<line x1="395.80" y1="269.90" x2="395.80" y2="294.30" stroke="#000" stroke-width="1.50" />
<line x1="393.10" y1="269.90" x2="398.50" y2="269.90" stroke="#000" stroke-width="1.50" />
<line x1="393.10" y1="294.30" x2="398.50" y2="294.30" stroke="#000" stroke-width="1.50" />
<circle cx="395.80" cy="282.10" r="2.3" fill="#000"/>
<line x1="431.60" y1="265.30" x2="431.60" y2="285.30" stroke="#000" stroke-width="1.50" />
<line x1="428.90" y1="265.30" x2="434.30" y2="265.30" stroke="#000" stroke-width="1.50" />
<line x1="428.90" y1="285.30" x2="434.30" y2="285.30" stroke="#000" stroke-width="1.50" />
<circle cx="431.60" cy="275.20" r="2.3" fill="#000"/>
<line x1="503.20" y1="261.70" x2="503.20" y2="281.50" stroke="#000" stroke-width="1.50" />
<line x1="500.50" y1="261.70" x2="505.90" y2="261.70" stroke="#000" stroke-width="1.50" />
<line x1="500.50" y1="281.50" x2="505.90" y2="281.50" stroke="#000" stroke-width="1.50" />
<circle cx="503.20" cy="271.60" r="2.3" fill="#000"/>
<text x="386.30" y="325.20" font-size="10.00" text-anchor="start" style="stroke-width:0.1px" textLength="82.9" lengthAdjust="spacingAndGlyphs">K<tspan font-size="6" dy="2.3" style="stroke-width:0.25px">m</tspan><tspan dy="-2.3">=10.87±2.25 mM</tspan></text>
<text x="386.30" y="336.90" font-size="10.00" text-anchor="start" style="stroke-width:0.1px" textLength="134.5" lengthAdjust="spacingAndGlyphs">V<tspan font-size="6" dy="3.3" style="stroke-width:0.25px">max</tspan><tspan dy="-3.3">=0.28±0.04 μmol min<tspan font-size="6" dy="-3.5">−1</tspan><tspan dy="3.5"> mg<tspan font-size="6" dy="-3.5">−1</tspan><tspan dy="3.5"></tspan></tspan></text>
<line x1="578.30" y1="245.30" x2="578.30" y2="361.60" stroke="#000" stroke-width="1.30" />
<line x1="578.30" y1="358.10" x2="737.90" y2="358.10" stroke="#000" stroke-width="1.30" />
<line x1="575.00" y1="358.10" x2="578.30" y2="358.10" stroke="#000" stroke-width="1.30" />
<text x="571.50" y="362.20" font-size="12.60" text-anchor="end" >0</text>
<line x1="575.00" y1="329.90" x2="578.30" y2="329.90" stroke="#000" stroke-width="1.30" />
<text x="571.50" y="334.00" font-size="12.60" text-anchor="end" >100</text>
<line x1="575.00" y1="301.70" x2="578.30" y2="301.70" stroke="#000" stroke-width="1.30" />
<text x="571.50" y="305.80" font-size="12.60" text-anchor="end" >200</text>
<line x1="575.00" y1="273.50" x2="578.30" y2="273.50" stroke="#000" stroke-width="1.30" />
<text x="571.50" y="277.60" font-size="12.60" text-anchor="end" >300</text>
<line x1="575.00" y1="245.30" x2="578.30" y2="245.30" stroke="#000" stroke-width="1.30" />
<text x="571.50" y="249.40" font-size="12.60" text-anchor="end" >400</text>
<line x1="578.30" y1="358.10" x2="578.30" y2="361.60" stroke="#000" stroke-width="1.30" />
<text x="578.30" y="378.50" font-size="12.60" text-anchor="middle" >0</text>
<line x1="650.18" y1="358.10" x2="650.18" y2="361.60" stroke="#000" stroke-width="1.30" />
<text x="653.00" y="378.50" font-size="12.60" text-anchor="middle" >50</text>
<line x1="722.06" y1="358.10" x2="722.06" y2="361.60" stroke="#000" stroke-width="1.30" />
<text x="725.60" y="378.50" font-size="12.60" text-anchor="middle" >100</text>
<text x="580.50" y="233.40" font-size="12.60" text-anchor="start" textLength="178.9" lengthAdjust="spacingAndGlyphs">5M-FL-<tspan font-style="italic">pv</tspan>LAAD with membrane</text>
<text x="605.30" y="389.50" font-size="12.60" text-anchor="start" >L-phenylalanine (μM)</text>
<text transform="translate(542.90,378.40) rotate(-90)" font-size="12.6" textLength="140.6" lengthAdjust="spacingAndGlyphs">Phenylpyruvic acid&#160;&#160;(μM)</text>
<path d="M578.30,358.10 L578.66,356.29 L579.02,354.55 L579.38,352.88 L579.74,351.28 L580.10,349.74 L580.46,348.25 L580.82,346.82 L581.18,345.44 L581.53,344.12 L581.89,342.83 L582.25,341.60 L582.61,340.40 L582.97,339.25 L583.33,338.13 L583.69,337.05 L584.05,336.00 L584.41,334.98 L584.77,334.00 L585.13,333.04 L585.49,332.12 L585.85,331.22 L586.21,330.35 L586.57,329.50 L586.93,328.68 L587.28,327.87 L587.64,327.10 L588.00,326.34 L588.36,325.60 L588.72,324.88 L589.08,324.18 L589.44,323.50 L589.80,322.83 L590.16,322.19 L590.52,321.55 L590.88,320.94 L591.24,320.34 L591.60,319.75 L591.96,319.17 L592.32,318.61 L592.68,318.07 L594.11,316.00 L595.55,314.10 L596.99,312.36 L598.43,310.75 L599.86,309.26 L601.30,307.88 L602.74,306.60 L604.18,305.40 L605.61,304.28 L607.05,303.23 L608.49,302.24 L609.93,301.31 L611.36,300.44 L612.80,299.61 L614.24,298.83 L615.68,298.09 L617.12,297.39 L618.55,296.73 L619.99,296.09 L621.43,295.49 L622.87,294.92 L624.30,294.37 L625.74,293.84 L627.18,293.34 L628.62,292.86 L630.05,292.40 L631.49,291.96 L632.93,291.54 L634.37,291.13 L635.80,290.74 L637.24,290.37 L638.68,290.00 L640.12,289.66 L641.55,289.32 L642.99,289.00 L644.43,288.68 L645.87,288.38 L647.30,288.09 L648.74,287.81 L650.18,287.53 L651.62,287.27 L653.06,287.01 L654.49,286.76 L655.93,286.52 L657.37,286.29 L658.81,286.06 L660.24,285.84 L661.68,285.63 L663.12,285.42 L664.56,285.22 L665.99,285.02 L667.43,284.83 L668.87,284.64 L670.31,284.46 L671.74,284.28 L673.18,284.11 L674.62,283.94 L676.06,283.78 L677.49,283.62 L678.93,283.47 L680.37,283.31 L681.81,283.17 L683.24,283.02 L684.68,282.88 L686.12,282.74 L687.56,282.61 L689.00,282.48 L690.43,282.35 L691.87,282.22 L693.31,282.10 L694.75,281.98 L696.18,281.86 L697.62,281.74 L699.06,281.63 L700.50,281.52 L701.93,281.41 L703.37,281.30 L704.81,281.20 L706.25,281.10 L707.68,281.00 L709.12,280.90 L710.56,280.80 L712.00,280.71 L713.43,280.62 L714.87,280.52 L716.31,280.44 L717.75,280.35 L719.18,280.26 L720.62,280.18 L722.06,280.09" fill="none" stroke="#000" stroke-width="1.3"/>
<circle cx="579.10" cy="352.70" r="2.3" fill="#000"/>
<line x1="580.40" y1="348.20" x2="580.40" y2="353.30" stroke="#000" stroke-width="1.50" />
<line x1="577.70" y1="348.20" x2="583.10" y2="348.20" stroke="#000" stroke-width="1.50" />
<line x1="577.70" y1="353.30" x2="583.10" y2="353.30" stroke="#000" stroke-width="1.50" />
<circle cx="580.40" cy="350.80" r="2.3" fill="#000"/>
<circle cx="583.00" cy="344.90" r="2.3" fill="#000"/>
<circle cx="587.30" cy="322.90" r="2.3" fill="#000"/>
<line x1="595.90" y1="313.90" x2="595.90" y2="322.30" stroke="#000" stroke-width="1.50" />
<line x1="593.20" y1="313.90" x2="598.60" y2="313.90" stroke="#000" stroke-width="1.50" />
<line x1="593.20" y1="322.30" x2="598.60" y2="322.30" stroke="#000" stroke-width="1.50" />
<circle cx="595.90" cy="317.80" r="2.3" fill="#000"/>
<line x1="614.30" y1="286.80" x2="614.30" y2="304.70" stroke="#000" stroke-width="1.50" />
<line x1="611.60" y1="286.80" x2="617.00" y2="286.80" stroke="#000" stroke-width="1.50" />
<line x1="611.60" y1="304.70" x2="617.00" y2="304.70" stroke="#000" stroke-width="1.50" />
<circle cx="614.30" cy="295.90" r="2.3" fill="#000"/>
<line x1="650.50" y1="276.70" x2="650.50" y2="293.20" stroke="#000" stroke-width="1.50" />
<line x1="647.80" y1="276.70" x2="653.20" y2="276.70" stroke="#000" stroke-width="1.50" />
<line x1="647.80" y1="293.20" x2="653.20" y2="293.20" stroke="#000" stroke-width="1.50" />
<circle cx="650.50" cy="284.70" r="2.3" fill="#000"/>
<line x1="722.50" y1="275.90" x2="722.50" y2="291.70" stroke="#000" stroke-width="1.50" />
<line x1="719.80" y1="275.90" x2="725.20" y2="275.90" stroke="#000" stroke-width="1.50" />
<line x1="719.80" y1="291.70" x2="725.20" y2="291.70" stroke="#000" stroke-width="1.50" />
<circle cx="722.50" cy="283.70" r="2.3" fill="#000"/>
<text x="614.30" y="325.80" font-size="10.00" text-anchor="start" style="stroke-width:0.1px" textLength="82.9" lengthAdjust="spacingAndGlyphs">K<tspan font-size="6" dy="2.3" style="stroke-width:0.25px">m</tspan><tspan dy="-2.3">=13.05±2.05 mM</tspan></text>
<text x="614.30" y="337.40" font-size="10.00" text-anchor="start" style="stroke-width:0.1px" textLength="135.5" lengthAdjust="spacingAndGlyphs">V<tspan font-size="6" dy="3.3" style="stroke-width:0.25px">max</tspan><tspan dy="-3.3">=0.24±0.06 μmol min<tspan font-size="6" dy="-3.5">−1</tspan><tspan dy="3.5"> mg<tspan font-size="6" dy="-3.5">−1</tspan><tspan dy="3.5"></tspan></tspan></text>
</svg>
</body></html>
